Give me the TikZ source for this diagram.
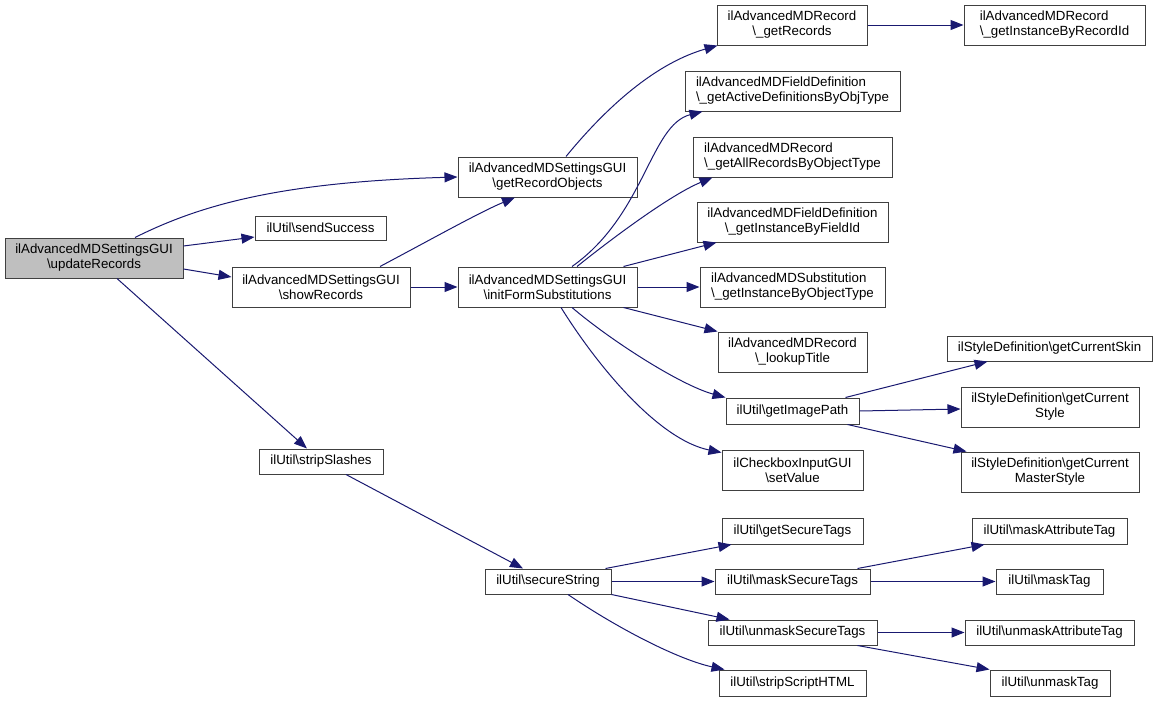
\documentclass[tikz,border=0pt]{standalone}
\usepackage{fontspec}
\setmainfont{Liberation Sans}
\usetikzlibrary{arrows.meta}
\definecolor{edgeblue}{HTML}{191970}
\definecolor{boxline}{HTML}{404040}
\definecolor{boxfill}{HTML}{BFBFBF}
\newcommand\bs{\textbackslash{}}
\newcommand\bx[7][]{\node[box,#1,minimum width={(#4-#2)*1pt},minimum height={(#5-#3)*1pt}] (#6) at ({(#2+#4)/2},{(#3+#5)/2}) {#7};}
\begin{document}
\begin{tikzpicture}[x=1pt,y=-1pt,
  box/.style={draw=boxline,line width=1pt,fill=white,inner sep=0pt,align=center,
    font=\fontsize{13.3}{15}\selectfont},
  lbox/.style={align=left},
  call/.style={draw=edgeblue,line width=1pt,-{Triangle[length=13pt,width=10pt]}}]
\useasboundingbox (0,0) rectangle (1157,702);
\bx[fill=boxfill]{5}{238}{183}{278}{ur}{ilAdvancedMDSettingsGUI\\\bs updateRecords}
\bx{458}{157}{637}{197}{gro}{ilAdvancedMDSettingsGUI\\\bs getRecordObjects}
\bx{255}{216}{386}{240}{ss}{ilUtil\bs sendSuccess}
\bx{232}{267}{410}{307}{sr}{ilAdvancedMDSettingsGUI\\\bs showRecords}
\bx{458}{267}{637}{307}{ifs}{ilAdvancedMDSettingsGUI\\\bs initFormSubstitutions}
\bx{717}{5}{867}{45}{gr}{ilAdvancedMDRecord\\\bs\_getRecords}
\bx[lbox]{685}{71}{900}{111}{gad}{ilAdvancedMDFieldDefinition\\\bs\_getActiveDefinitionsByObjType}
\bx[lbox]{693}{137}{892}{177}{gar}{ilAdvancedMDRecord\\\bs\_getAllRecordsByObjectType}
\bx{697}{202}{888}{242}{gif}{ilAdvancedMDFieldDefinition\\\bs\_getInstanceByFieldId}
\bx[lbox]{700}{267}{885}{307}{gsub}{ilAdvancedMDSubstitution\\\bs\_getInstanceByObjectType}
\bx[lbox]{964}{5}{1145}{45}{grid}{ilAdvancedMDRecord\\\bs\_getInstanceByRecordId}
\bx{718}{332}{867}{372}{lt}{ilAdvancedMDRecord\\\bs\_lookupTitle}
\bx{726}{398}{859}{424}{gip}{ilUtil\bs getImagePath}
\bx{722}{450}{863}{490}{sv}{ilCheckboxInputGUI\\\bs setValue}
\bx{947}{336}{1152}{361}{gcs}{ilStyleDefinition\bs getCurrentSkin}
\bx{961}{387}{1139}{427}{gcst}{ilStyleDefinition\bs getCurrent\\Style}
\bx{961}{452}{1139}{492}{gcms}{ilStyleDefinition\bs getCurrent\\MasterStyle}
\bx{722}{518}{863}{544}{gst}{ilUtil\bs getSecureTags}
\bx{715}{569}{870}{594}{mst}{ilUtil\bs maskSecureTags}
\bx{708}{620}{877}{645}{ust}{ilUtil\bs unmaskSecureTags}
\bx{719}{670}{866}{696}{ssh}{ilUtil\bs stripScriptHTML}
\bx{972}{518}{1127}{544}{mat}{ilUtil\bs maskAttributeTag}
\bx{996}{569}{1103}{594}{mt}{ilUtil\bs maskTag}
\bx{965}{620}{1134}{645}{uat}{ilUtil\bs unmaskAttributeTag}
\bx{990}{670}{1110}{696}{ut}{ilUtil\bs unmaskTag}
\bx{259}{449}{383}{474}{sls}{ilUtil\bs stripSlashes}
\bx{485}{569}{611}{594}{sst}{ilUtil\bs secureString}

\draw[call] ([xshift=41pt]ur.north) .. controls (200,205) and (280,182) .. (gro.west);
\draw[call] ([yshift=12pt]ur.east) -- ([yshift=-9pt]ss.west);
\draw[call] ([yshift=-11pt]ur.east) -- ([yshift=10pt]sr.west);
\draw[call] ([xshift=23pt]ur.south) -- ([xshift=-14pt]sls.north);
\draw[call] ([xshift=59pt]sr.north) .. controls (430,240) and (480,212) .. ([xshift=-32.5pt]gro.south);
\draw[call] (sr.east) -- (ifs.west);
\draw[call] ([xshift=18.5pt]gro.north) .. controls (600,115) and (650,65) .. ([xshift=1pt]gr.south west);
\draw[call] ([xshift=24.5pt]ifs.north) .. controls (645,215) and (650,125) .. ([xshift=18pt]gad.south west);
\draw[call] ([xshift=29.5pt]ifs.north) .. controls (610,240) and (670,195) .. ([xshift=20pt]gar.south west);
\draw[call] ([xshift=-14pt]ifs.north east) -- ([xshift=20pt]gif.south west);
\draw[call] (ifs.east) -- (gsub.west);
\draw[call] ([xshift=-14pt]ifs.south east) -- (lt.north west);
\draw[call] ([xshift=24.5pt]ifs.south) .. controls (610,340) and (680,385) .. (gip.north west);
\draw[call] ([xshift=13.5pt]ifs.south) .. controls (600,370) and (660,440) .. ([yshift=-3pt]sv.north west);
\draw[call] (gr.east) -- (grid.west);
\draw[call] ([xshift=-14pt]gip.north east) -- ([xshift=41pt]gcs.south west);
\draw[call] (gip.east) -- ([yshift=-2pt]gcst.west);
\draw[call] ([xshift=-12pt]gip.south east) -- ([xshift=6pt]gcms.north west);
\draw[call] ([xshift=25pt]sls.south) -- ([xshift=-25pt]sst.north);
\draw[call] ([xshift=-6pt]sst.north east) -- ([xshift=10pt]gst.south west);
\draw[call] (sst.east) -- (mst.west);
\draw[call] (sst.south east) -- ([xshift=22pt]ust.north west);
\draw[call] ([xshift=20pt]sst.south) .. controls (620,630) and (680,660) .. ([xshift=6pt]ssh.north west);
\draw[call] ([xshift=-13pt]mst.north east) -- ([xshift=13pt]mat.south west);
\draw[call] (mst.east) -- (mt.west);
\draw[call] (ust.east) -- (uat.west);
\draw[call] ([xshift=-20pt]ust.south east) -- (ut.north west);
\end{tikzpicture}
\end{document}
